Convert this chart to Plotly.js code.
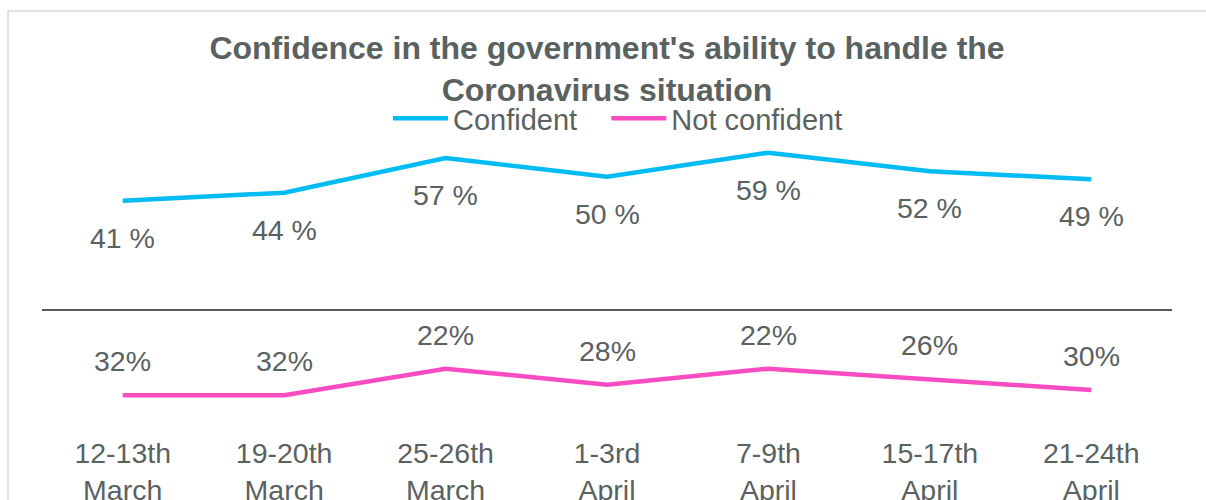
<!DOCTYPE html>
<html>
<head>
<meta charset="utf-8">
<script src="https://cdn.plot.ly/plotly-3.0.1.min.js"></script>
<style>html,body{margin:0;padding:0;background:#fff;} #chart{width:1206px;height:500px;}</style>
</head>
<body>
<div id="chart"></div>
<script>
const categories = ["12-13th<br>March", "19-20th<br>March", "25-26th<br>March", "1-3rd<br>April", "7-9th<br>April", "15-17th<br>April", "21-24th<br>April"];
const confident = [41, 44, 57, 50, 59, 52, 49];
const notConfident = [32, 32, 22, 28, 22, 26, 30];
const seriesNames = ["Confident", "Not confident"];
const titleText = "Confidence in the government's ability to handle the<br>Coronavirus situation";

const textColor = "#5a625f";
const font = "Liberation Sans, Arial, sans-serif";
const legendPad = "\u00a0\u00a0\u00a0";

const notConfidentPlotted = notConfident.map(v => -v);

const traces = [
  {x: categories, y: confident, name: seriesNames[0] + legendPad, mode: "lines", type: "scatter",
   line: {color: "#00bcf2", width: 4.5}, hoverinfo: "skip"},
  {x: categories, y: notConfidentPlotted, name: seriesNames[1], mode: "lines", type: "scatter",
   line: {color: "#f84cc1", width: 4.5}, hoverinfo: "skip"}
];

const annotations = [];
categories.forEach((c, i) => {
  annotations.push({x: c, y: confident[i], xref: "x", yref: "y", text: confident[i] + " %",
    showarrow: false, yshift: -37, font: {family: font, size: 28.5, color: textColor}});
  annotations.push({x: c, y: notConfidentPlotted[i], xref: "x", yref: "y", text: notConfident[i] + "%",
    showarrow: false, yshift: 34, font: {family: font, size: 28.5, color: textColor}});
});

const layout = {
  width: 1206, height: 500,
  margin: {l: 42, r: 34, t: 130, b: 70},
  paper_bgcolor: "#fff", plot_bgcolor: "#fff",
  font: {family: font, color: textColor},
  title: {text: "<b>" + titleText + "</b>", font: {family: font, size: 32, color: textColor},
          x: 0.5, xref: "paper", xanchor: "center", y: 1 - 59/500, yref: "container", yanchor: "top"},
  showlegend: true,
  legend: {orientation: "h", x: (388-42)/1130, xanchor: "left", y: (430-144)/300, yanchor: "bottom", yref: "paper",
           font: {family: font, size: 29, color: textColor}, itemwidth: 55,
           bgcolor: "rgba(0,0,0,0)"},
  xaxis: {type: "category", range: [-0.5, 6.5], showgrid: false, showline: false, zeroline: false,
          ticks: "", ticklabelstandoff: 3, tickfont: {family: font, size: 28.5, color: textColor}, fixedrange: true},
  yaxis: {range: [-45, 67.5], showgrid: false, showticklabels: false, showline: false, ticks: "",
          zeroline: true, zerolinecolor: "#595959", zerolinewidth: 1.5, fixedrange: true},
  annotations: annotations,
  shapes: [{type: "rect", xref: "paper", yref: "paper", x0: -34/1130, x1: 1.04, y0: -0.3, y1: (430-11)/300,
            line: {color: "#d9d9d9", width: 1.5}, fillcolor: "rgba(0,0,0,0)", layer: "below"}]
};

Plotly.newPlot("chart", traces, layout, {displayModeBar: false, staticPlot: true});
</script>
</body>
</html>
